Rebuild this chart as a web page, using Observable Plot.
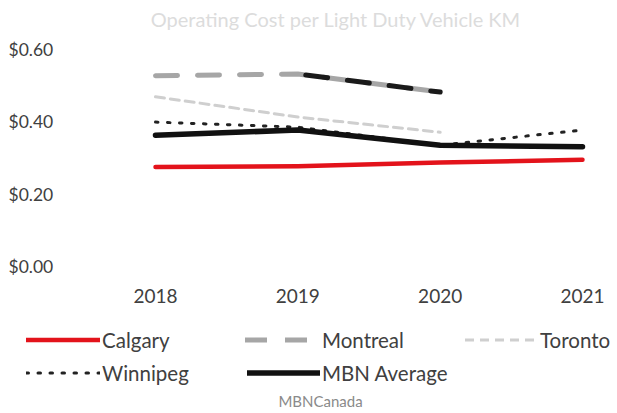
<!DOCTYPE html>
<html>
<head>
<meta charset="utf-8">
<script src="https://cdn.jsdelivr.net/npm/d3@7"></script>
<script src="https://cdn.jsdelivr.net/npm/@observablehq/plot@0.6"></script>
<style>
  html, body { margin: 0; padding: 0; background: #fff; }
  body { width: 617px; height: 413px; overflow: hidden; font-family: Lato, "Open Sans", sans-serif; color: #404040; }
  #title { height: 30px; line-height: 38px; text-align: center; font-size: 20px; color: #dcdcdc; padding-left: 54px; white-space: nowrap; }
  #chart { height: 282px; }
  .legend { position: relative; height: 82px; font-size: 20.5px; color: #404040; }
  .item { position: absolute; display: flex; align-items: center; }
  .item svg { margin-right: 2px; }
  #caption { text-align: center; font-size: 15px; color: #8a8a8a; padding-left: 24px; margin-top: -2px; }
</style>
</head>
<body>
<div id="title">Operating Cost per Light Duty Vehicle KM</div>
<div id="chart"></div>
<div class="legend" id="legend"></div>
<div id="caption">MBNCanada</div>
<script>
const years = [2018, 2019, 2020, 2021];
const seriesNames = ["Calgary", "Montreal", "Toronto", "Winnipeg", "MBN Average"];
const calgary = [0.278, 0.280, 0.290, 0.298];
const montreal = [0.530, 0.535, 0.485, null];
const toronto = [0.472, 0.416, 0.374, null];
const winnipeg = [0.402, 0.388, 0.338, 0.380];
const mbnAverage = [0.366, 0.380, 0.338, 0.334];
const yTicks = [0, 0.2, 0.4, 0.6];

const values = { "Calgary": calgary, "Montreal": montreal, "Toronto": toronto, "Winnipeg": winnipeg, "MBN Average": mbnAverage };
const data = seriesNames.flatMap(name => years.map((year, i) => ({ name, year, value: values[name][i] })))
  .filter(d => d.value != null);
const byName = name => data.filter(d => d.name === name);
const montrealDark = byName("Montreal").filter(d => d.year >= 2019 && d.year <= 2020);

const styles = {
  "Calgary": { stroke: "#e3131b", strokeWidth: 4.5 },
  "Montreal": { stroke: "#a6a6a6", strokeWidth: 5, strokeDasharray: "22 20" },
  "Toronto": { stroke: "#cfcfcf", strokeWidth: 3, strokeDasharray: "9 6" },
  "Winnipeg": { stroke: "#222", strokeWidth: 3, strokeDasharray: "2.5 9.5" },
  "MBN Average": { stroke: "#111", strokeWidth: 5.5 }
};

const chart = Plot.plot({
  width: 617,
  height: 282,
  marginLeft: 155,
  marginRight: 35,
  marginTop: 20,
  marginBottom: 45,
  style: { fontFamily: "Lato, 'Open Sans', sans-serif", fontSize: "17px", color: "#404040", background: "#fff" },
  x: { domain: [2018, 2021] },
  y: { domain: [0, 0.6] },
  marks: [
    Plot.axisY({ ticks: yTicks, tickFormat: d3.format("$.2f"), tickSize: 0, textAnchor: "start", dx: -138, label: null, fontSize: 17.5 }),
    Plot.axisX({ ticks: years, tickFormat: d => String(d), tickSize: 0, tickPadding: 22, label: null, fontSize: 19 }),
    Plot.line(byName("Toronto"), { x: "year", y: "value", ...styles["Toronto"] }),
    Plot.line(byName("Montreal"), { x: "year", y: "value", ...styles["Montreal"] }),
    Plot.line(montrealDark, { x: "year", y: "value", stroke: "#1a1a1a", strokeWidth: 5, strokeDasharray: "22 20", strokeDashoffset: -8 }),
    Plot.line(byName("Winnipeg"), { x: "year", y: "value", ...styles["Winnipeg"], strokeLinecap: "round" }),
    Plot.line(byName("MBN Average"), { x: "year", y: "value", ...styles["MBN Average"] }),
    Plot.line(byName("Calgary"), { x: "year", y: "value", ...styles["Calgary"] })
  ]
});
document.getElementById("chart").appendChild(chart);

// Legend
const legendPos = {
  "Calgary": [26, 28, 74], "Montreal": [245, 28, 75], "Toronto": [465, 28, 73],
  "Winnipeg": [26, 61, 74], "MBN Average": [247, 61, 73]
};
const legendDash = { "Montreal": "22 18", "Toronto": "9 6" };
const legend = document.getElementById("legend");
seriesNames.forEach(name => {
  const [lx, ly, w] = legendPos[name];
  const s = styles[name];
  const dash = legendDash[name] || s.strokeDasharray;
  const item = document.createElement("div");
  item.className = "item";
  item.style.left = lx + "px";
  item.style.top = (ly - 14) + "px";
  item.innerHTML = `<svg width="${w}" height="28"><line x1="0" x2="${w}" y1="14" y2="14" stroke="${s.stroke}" stroke-width="${s.strokeWidth}" ${dash ? `stroke-dasharray="${dash}"` : ""} ${name === "Winnipeg" ? 'stroke-linecap="round"' : ""}/></svg><span>${name}</span>`;
  legend.appendChild(item);
});
</script>
</body>
</html>
